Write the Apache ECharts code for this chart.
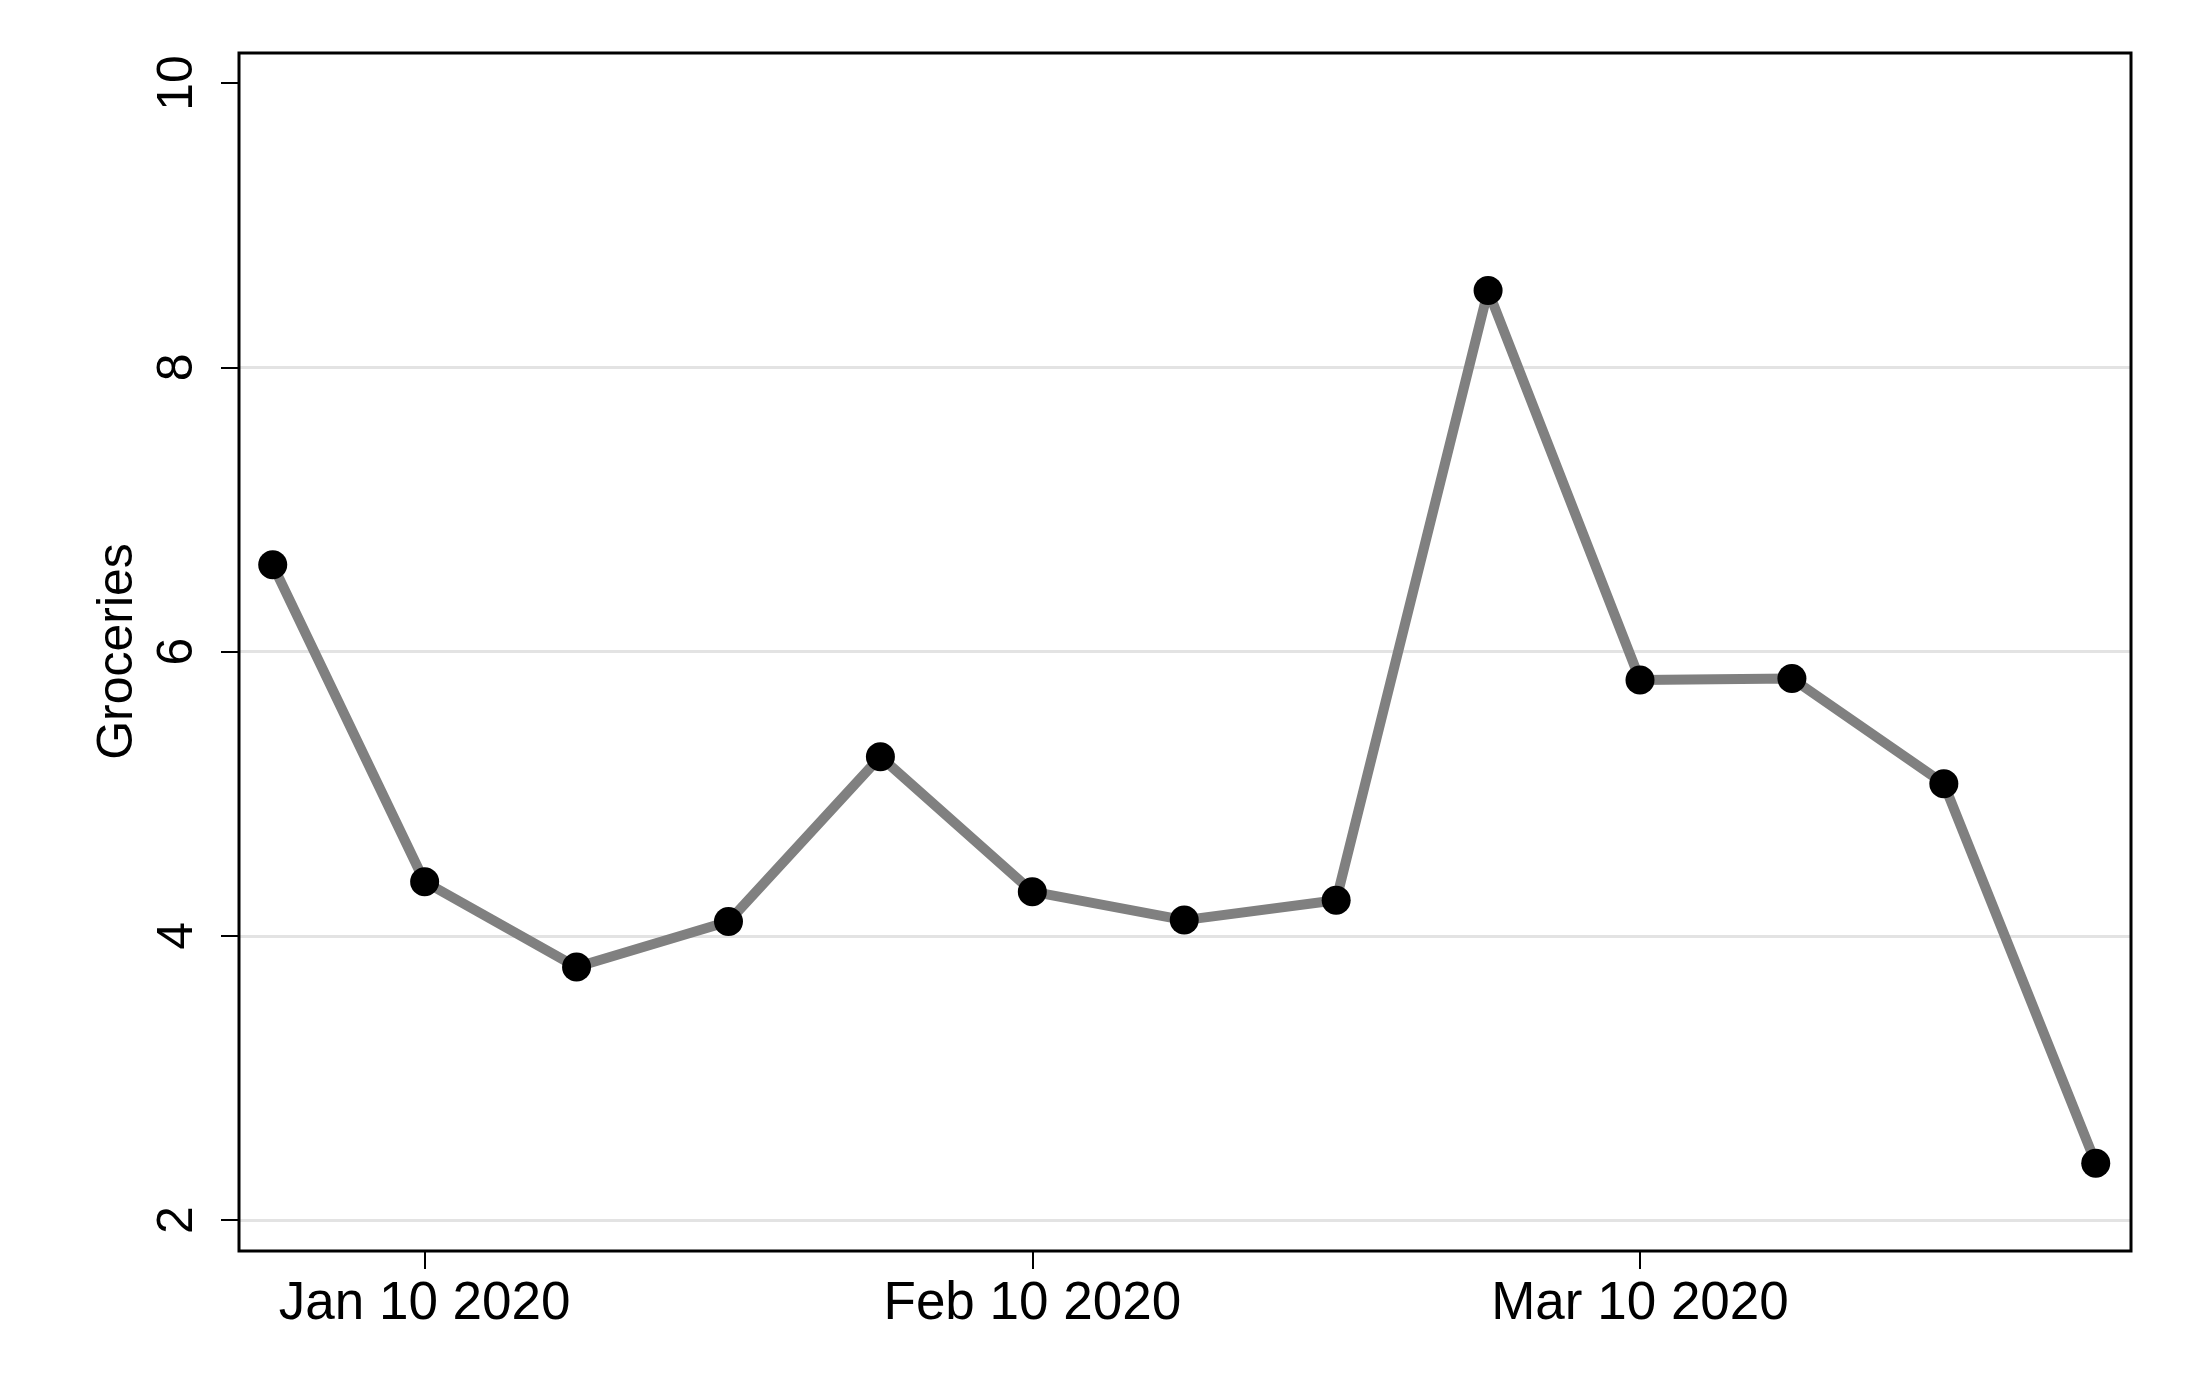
<!DOCTYPE html>
<html>
<head>
<meta charset="utf-8">
<script src="https://cdn.jsdelivr.net/npm/echarts@6/dist/echarts.min.js"></script>
<style>
html,body{margin:0;padding:0;background:#fff;}
#chart{width:2204px;height:1376px;}
</style>
</head>
<body>
<div id="chart"></div>
<script>
// ---- data ----
const weekIndex = [0, 1, 2, 3, 4, 5, 6, 7, 8, 9, 10, 11, 12];
const groceries = [6.61, 4.38, 3.78, 4.10, 5.26, 4.31, 4.11, 4.25, 8.54, 5.80, 5.81, 5.07, 2.40];
const xTickPositions = [1, 5, 9];
const xTickLabels = ['Jan 10 2020', 'Feb 10 2020', 'Mar 10 2020'];
const yTicks = [2, 4, 6, 8, 10];
const yTitle = 'Groceries';

const FONT = "'Liberation Sans', Arial, sans-serif";
const chart = echarts.init(document.getElementById('chart'), null, {renderer: 'canvas'});

const option = {
  animation: false,
  backgroundColor: '#ffffff',
  grid: [
    // outer frame
    {left: 239, right: 73, top: 53, bottom: 125, show: true, borderColor: '#000', borderWidth: 3, backgroundColor: 'transparent', z: 3},
    // data area
    {left: 239, right: 73, top: 83, bottom: 156, show: false}
  ],
  xAxis: [
    {gridIndex: 0, type: 'value', show: false, min: 0, max: 1},
    {
      gridIndex: 1, type: 'value', position: 'bottom', offset: 31,
      min: -0.222, max: 12.232,
      axisLine: {show: false, onZero: false},
      axisTick: {show: true, length: 18, customValues: xTickPositions, lineStyle: {color: '#000', width: 2}},
      axisLabel: {
        customValues: xTickPositions, margin: 27,
        fontFamily: FONT, fontSize: 53, color: '#000',
        formatter: function (v) {
          const i = xTickPositions.indexOf(Math.round(v));
          return i >= 0 ? xTickLabels[i] : '';
        }
      },
      splitLine: {show: false}
    }
  ],
  yAxis: [
    {gridIndex: 0, type: 'value', show: false, min: 0, max: 1},
    {
      gridIndex: 1, type: 'value', min: yTicks[0], max: yTicks[yTicks.length - 1], interval: 2,
      axisLine: {show: false, onZero: false},
      axisTick: {show: true, length: 18, lineStyle: {color: '#000', width: 2}},
      axisLabel: {rotate: 90, margin: 36, fontFamily: FONT, fontSize: 50, color: '#000'},
      splitLine: {show: true, lineStyle: {color: ['#e3e3e3', '#e3e3e3', '#e3e3e3', '#e3e3e3', 'rgba(0,0,0,0)'], width: 3}},
      name: yTitle, nameLocation: 'middle', nameRotate: 90, nameGap: 96,
      nameTextStyle: {fontFamily: FONT, fontSize: 50, color: '#000'}
    }
  ],
  series: [{
    type: 'line',
    xAxisIndex: 1, yAxisIndex: 1,
    data: weekIndex.map((w, i) => [w, groceries[i]]),
    symbol: 'circle', symbolSize: 29,
    itemStyle: {color: '#000'},
    lineStyle: {color: '#808080', width: 10},
    clip: false,
    z: 5
  }]
};
chart.setOption(option);
</script>
</body>
</html>
